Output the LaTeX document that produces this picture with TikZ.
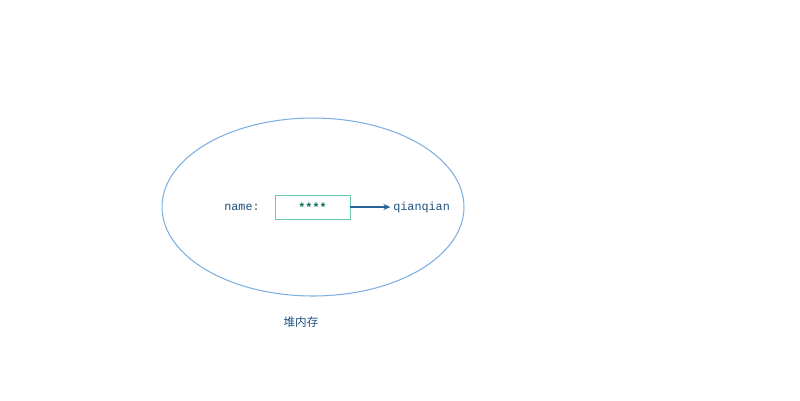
\documentclass[tikz,border=0pt]{standalone}
\usepackage{fontspec}
\setmonofont{Liberation Mono}
\newfontfamily\cjk{Noto Sans CJK SC}
\usetikzlibrary{positioning,shapes.geometric,arrows.meta}
\definecolor{heapblue}{RGB}{125,175,225}
\definecolor{boxgreen}{RGB}{110,200,170}
\definecolor{valgreen}{RGB}{0,110,90}
\definecolor{txtblue}{RGB}{30,80,125}
\definecolor{arrowblue}{RGB}{40,100,150}
\tikzset{
    txt/.style={font=\ttfamily\fontsize{6.7}{8}\selectfont, text=txtblue, inner sep=1.5pt,
        text height=1.2ex, text depth=0.3ex},
    valbox/.style={draw=boxgreen, text=valgreen, font=\ttfamily\bfseries\fontsize{6.7}{8}\selectfont,
        minimum width=1.5cm, minimum height=0.48cm, inner sep=0pt},
    ptr/.style={-{Stealth[length=4pt,width=3.5pt]}, draw=arrowblue, semithick},
}
\begin{document}
\begin{tikzpicture}[x=0.02cm, y=-0.02cm]
    \useasboundingbox (0,0) rectangle (800,400);
    \node [ellipse, draw=heapblue, semithick, minimum width=6.04cm, minimum height=3.56cm, inner sep=0pt] (heap) at (313,207) {};
    \node [valbox] (val) at (312.5,207) {****};
    \node [txt, left=0.3cm of val, xshift=0.06cm] (name) {name:};
    \node [txt, right=0.8cm of val] (str) {qianqian};
    \node [below=0.28cm of heap, xshift=-0.24cm, text=txtblue, font=\cjk\fontsize{6.6}{8}\selectfont] (label) {堆内存};
    \draw [ptr] (val) -- (str);
\end{tikzpicture}
\end{document}
